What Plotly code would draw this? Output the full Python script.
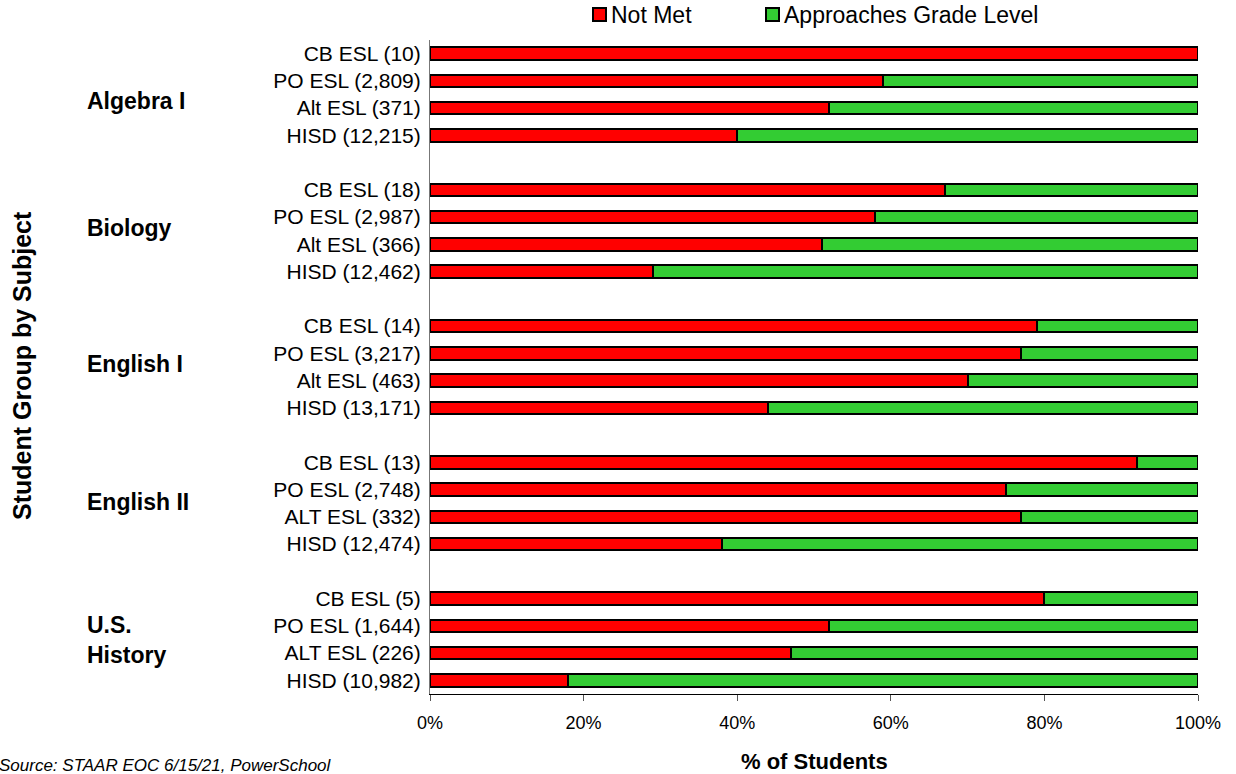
import plotly.graph_objects as go

# STAAR EOC results: share of students by performance level, per subject and group
subjects = ["Algebra I", "Biology", "English I", "English II", "U.S.<br>History"]
subject_rows = [1.73, 1.39, 1.39, 1.46, 1.5]  # label position within each block

groups = [
    ["CB ESL (10)", "PO ESL (2,809)", "Alt ESL (371)", "HISD (12,215)"],
    ["CB ESL (18)", "PO ESL (2,987)", "Alt ESL (366)", "HISD (12,462)"],
    ["CB ESL (14)", "PO ESL (3,217)", "Alt ESL (463)", "HISD (13,171)"],
    ["CB ESL (13)", "PO ESL (2,748)", "ALT ESL (332)", "HISD (12,474)"],
    ["CB ESL (5)", "PO ESL (1,644)", "ALT ESL (226)", "HISD (10,982)"],
]

not_met = [
    [100, 59, 52, 40],
    [67, 58, 51, 29],
    [79, 77, 70, 44],
    [92, 75, 77, 38],
    [80, 52, 47, 18],
]

approaches = [[100 - v for v in row] for row in not_met]

series_names = ["Not Met", "Approaches Grade Level"]
series_colors = ["#FF0000", "#33CC33"]

# one empty slot between subject blocks
slot = 5
ypos, labels, nm_vals, ap_vals = [], [], [], []
for g, names in enumerate(groups):
    for r, name in enumerate(names):
        ypos.append(g * slot + r)
        labels.append(name)
        nm_vals.append(not_met[g][r])
        ap_vals.append(approaches[g][r])

font_family = "Liberation Sans, Arial, sans-serif"

W, H = 1236, 774
ML, MR, MT, MB = 430, 38, 40, 80
PW, PH = W - ML - MR, H - MT - MB


def px_x(px):
    return (px - ML) / PW


def px_y(py):
    return (H - MB - py) / PH


fig = go.Figure()
for name, color, vals in zip(series_names, series_colors, [nm_vals, ap_vals]):
    fig.add_trace(go.Bar(
        name=name, y=ypos, x=vals, orientation="h", width=0.46,
        marker=dict(color=color, line=dict(color="#000000", width=2)),
        showlegend=False,
    ))

# subject names to the left of the group labels
for g, subj in enumerate(subjects):
    fig.add_annotation(
        x=px_x(85), xref="paper", y=g * slot + subject_rows[g], yref="y",
        text="<b>%s</b>" % subj, showarrow=False, xanchor="left", yanchor="middle",
        align="left", font=dict(size=23, color="#000000", family=font_family),
    )

# axis titles
fig.add_annotation(
    x=px_x(22), xref="paper", y=px_y(366), yref="paper", textangle=-90,
    text="<b>Student Group by Subject</b>", showarrow=False,
    xanchor="center", yanchor="middle", font=dict(size=25, color="#000000", family=font_family),
)
fig.add_annotation(
    x=0.5, xref="paper", y=px_y(761), yref="paper",
    text="<b>% of Students</b>", showarrow=False,
    xanchor="center", yanchor="middle", font=dict(size=22, color="#000000", family=font_family),
)

# source note
fig.add_annotation(
    x=px_x(-3), xref="paper", y=px_y(765), yref="paper",
    text="<i>Source: STAAR EOC 6/15/21, PowerSchool</i>", showarrow=False,
    xanchor="left", yanchor="middle", font=dict(size=17, color="#000000", family=font_family),
)

# legend row along the top
legend_x = [593, 766]
for lx, name, color in zip(legend_x, series_names, series_colors):
    fig.add_shape(
        type="rect", xref="paper", yref="paper",
        x0=px_x(lx), x1=px_x(lx + 13), y0=px_y(21), y1=px_y(8),
        fillcolor=color, line=dict(color="#000000", width=2),
    )
    fig.add_annotation(
        x=px_x(lx + 16), xref="paper", y=px_y(15), yref="paper",
        text=name, showarrow=False, xanchor="left", yanchor="middle",
        font=dict(size=23, color="#000000", family=font_family),
    )

fig.update_layout(
    width=W, height=H,
    margin=dict(l=ML, r=MR, t=MT, b=MB, autoexpand=False),
    barmode="stack",
    plot_bgcolor="#FFFFFF", paper_bgcolor="#FFFFFF",
    font=dict(family=font_family, size=19, color="#000000"),
    showlegend=False,
    xaxis=dict(
        range=[0, 100], tickvals=[0, 20, 40, 60, 80, 100],
        ticktext=["0%", "20%", "40%", "60%", "80%", "100%"],
        showgrid=False, zeroline=False, showline=True, linecolor="#000000", linewidth=1,
        ticks="outside", ticklen=6, tickcolor="#555555",
        tickfont=dict(size=18), ticklabelstandoff=6, automargin=False,
    ),
    yaxis=dict(
        range=[23.5, -0.5], tickvals=ypos, ticktext=labels,
        showgrid=False, zeroline=False, showline=True, linecolor="#777777", linewidth=1,
        ticks="", tickfont=dict(size=21), automargin=False, ticklabelstandoff=4,
    ),
)

fig.write_html("out.html")
